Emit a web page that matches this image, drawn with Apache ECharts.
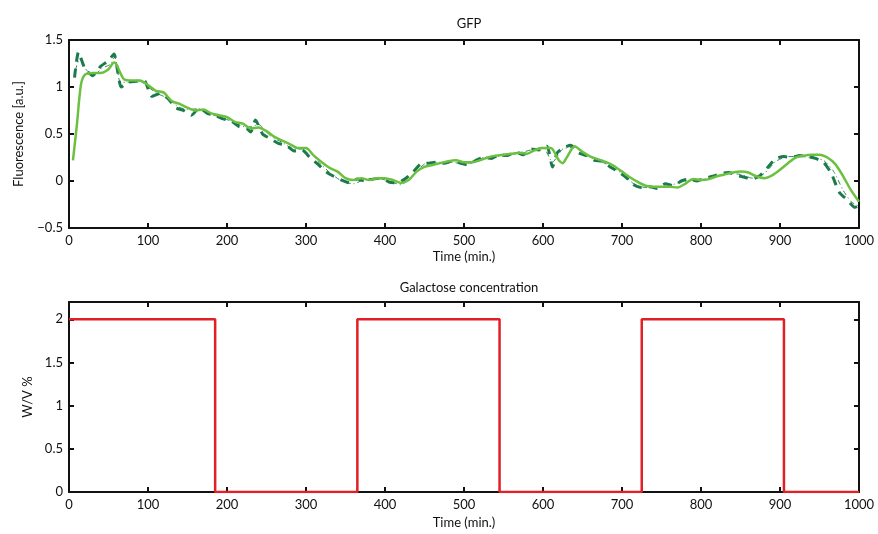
<!DOCTYPE html>
<html><head><meta charset="utf-8">
<script src="https://cdn.jsdelivr.net/npm/echarts@6/dist/echarts.min.js"></script>
<style>html,body{margin:0;padding:0;background:#fff}#c{width:878px;height:534px}</style>
</head><body><div id="c"></div>
<script>
// ---- data ----
var xTicks = [0,100,200,300,400,500,600,700,800,900,1000];
var solidT = [5,10,15,20,30,40,50,57,60,70,80,90,100,110,120,130,140,150,160,170,180,190,200,210,220,230,240,250,260,270,280,290,300,310,320,330,340,350,360,370,380,390,400,410,420,430,440,450,460,470,480,490,500,510,520,530,540,550,560,570,580,590,600,610,620,625,630,640,650,660,670,680,690,700,710,720,730,740,750,760,770,780,790,800,810,820,830,840,850,860,870,880,890,900,910,920,930,940,950,960,970,980,990,1000];
var solidY = [0.22,0.6,1.02,1.13,1.15,1.15,1.19,1.26,1.24,1.08,1.07,1.07,1.02,0.96,0.94,0.85,0.82,0.78,0.75,0.76,0.72,0.70,0.68,0.63,0.61,0.56,0.57,0.53,0.47,0.43,0.39,0.35,0.35,0.27,0.20,0.14,0.10,0.03,0.01,0.03,0.01,0.03,0.03,0.01,-0.02,0.01,0.10,0.15,0.17,0.19,0.21,0.22,0.20,0.20,0.22,0.25,0.27,0.28,0.29,0.30,0.29,0.33,0.35,0.35,0.22,0.19,0.25,0.37,0.31,0.26,0.23,0.20,0.16,0.10,0.04,-0.01,-0.05,-0.06,-0.06,-0.06,-0.07,-0.03,0.02,0.01,0.02,0.05,0.07,0.09,0.10,0.09,0.05,0.03,0.06,0.12,0.19,0.25,0.27,0.28,0.28,0.25,0.18,0.05,-0.10,-0.22];
var dashT = [7,12,20,30,40,50,57,62,66,75,85,95,105,115,125,135,145,155,165,175,185,195,205,215,225,230,236,245,255,265,275,285,295,305,315,325,335,345,355,365,375,385,395,405,415,425,435,445,455,465,475,485,495,505,515,525,535,545,555,565,575,585,595,605,612,618,625,635,645,655,665,675,685,695,705,715,725,735,745,755,765,775,785,795,805,815,825,835,845,855,865,875,885,895,905,915,925,935,945,955,965,975,985,995,1000];
var dashY = [1.10,1.37,1.20,1.12,1.22,1.28,1.35,1.15,1.00,1.05,1.06,1.07,0.90,0.93,0.88,0.78,0.75,0.70,0.78,0.72,0.70,0.66,0.64,0.58,0.56,0.52,0.65,0.50,0.45,0.40,0.38,0.32,0.33,0.25,0.18,0.10,0.05,0.01,-0.02,0.02,0.00,0.02,0.03,-0.01,-0.02,0.02,0.09,0.18,0.19,0.20,0.19,0.21,0.19,0.17,0.22,0.25,0.24,0.28,0.27,0.31,0.28,0.34,0.33,0.37,0.15,0.30,0.35,0.38,0.30,0.27,0.22,0.21,0.15,0.10,0.04,-0.04,-0.07,-0.06,-0.08,-0.03,-0.05,0.00,0.02,0.00,0.03,0.05,0.08,0.09,0.06,0.04,0.02,0.06,0.15,0.24,0.26,0.25,0.27,0.26,0.24,0.20,0.08,-0.12,-0.20,-0.28,-0.26];
var dotT = [8,14,22,32,42,52,58,65,75,88,100,112,125,138,150,165,180,195,210,225,240,255,270,285,300,315,330,345,360,375,390,405,420,435,450,465,480,495,510,525,540,555,570,585,600,612,625,640,655,670,685,700,715,730,745,760,775,790,805,820,835,850,865,880,895,910,925,940,955,968,980,990,1000];
var dotY = [1.18,1.30,1.18,1.13,1.20,1.24,1.32,1.05,1.05,1.07,1.00,0.93,0.88,0.79,0.76,0.77,0.71,0.67,0.62,0.57,0.60,0.48,0.41,0.34,0.34,0.21,0.09,0.00,-0.03,0.02,0.03,0.00,-0.04,0.06,0.18,0.20,0.20,0.19,0.19,0.25,0.26,0.27,0.30,0.33,0.36,0.20,0.34,0.36,0.27,0.22,0.16,0.08,-0.03,-0.07,-0.07,-0.05,-0.01,0.01,0.02,0.05,0.08,0.07,0.03,0.08,0.21,0.26,0.26,0.25,0.22,0.10,-0.10,-0.22,-0.27];
var galT = [0,185,185,365,365,545,545,725,725,905,905,1000];
var galY = [2,2,0,0,2,2,0,0,2,2,0,0];

function pairs(t, y){ return t.map(function(v,i){ return [v, y[i]]; }); }
var font = 'Lato, "Open Sans", sans-serif';
var fs = 13;
function minusFmt(v){ return String(v).replace('-', '\u2212'); }
function plainFmt(v){ return String(v); }
function halfFmt(v){ return (Math.abs(v*2 - Math.round(v*2)) < 1e-6) ? minusFmt(v) : ''; }

function boxAxes(gi, show, pos, extra){
  var a = {
    gridIndex: gi, type: 'value', position: pos,
    axisLine: {show: true, onZero: false, lineStyle: {color: '#111', width: 2}},
    axisTick: {show: true, inside: true, length: 5, lineStyle: {color: '#111', width: 2}},
    axisLabel: {show: show, color: '#111', fontFamily: font, fontSize: fs, margin: 6, formatter: minusFmt},
    splitLine: {show: false}
  };
  for (var k in extra) a[k] = extra[k];
  return a;
}
var nameStyle = {fontFamily: font, fontSize: fs, color: '#111'};

var chart = echarts.init(document.getElementById('c'));
chart.setOption({
  animation: false,
  backgroundColor: '#fff',
  title: [
    {text: 'GFP', left: 464, top: 12, textAlign: 'center', textStyle: {fontFamily: font, fontSize: fs, fontWeight: 'normal', color: '#111'}},
    {text: 'Galactose concentration', left: 464, top: 276, textAlign: 'center', textStyle: {fontFamily: font, fontSize: fs, fontWeight: 'normal', color: '#111'}}
  ],
  grid: [
    {left: 69, right: 19, top: 40, height: 188},
    {left: 69, right: 19, top: 302, height: 190}
  ],
  xAxis: [
    boxAxes(0, true, 'bottom', {min: 0, max: 1000, interval: 100, name: 'Time (min.)', nameLocation: 'middle', nameGap: 22, nameTextStyle: nameStyle}),
    boxAxes(0, false, 'top', {min: 0, max: 1000, interval: 100}),
    boxAxes(1, true, 'bottom', {min: 0, max: 1000, interval: 100, name: 'Time (min.)', nameLocation: 'middle', nameGap: 24, nameTextStyle: nameStyle}),
    boxAxes(1, false, 'top', {min: 0, max: 1000, interval: 100})
  ],
  yAxis: [
    boxAxes(0, true, 'left', {min: -0.5, max: 1.5, interval: 0.5, name: 'Fluorescence [a.u.]', nameLocation: 'middle', nameGap: 44, nameTextStyle: nameStyle}),
    boxAxes(0, false, 'right', {min: -0.5, max: 1.5, interval: 0.5}),
    boxAxes(1, true, 'left', {min: 0, max: 2.2, interval: 0.5, name: 'W/V %', nameLocation: 'middle', nameGap: 32, nameTextStyle: nameStyle}),
    boxAxes(1, false, 'right', {min: 0, max: 2.2, interval: 0.5})
  ],
  series: [
    {type: 'line', xAxisIndex: 0, yAxisIndex: 0, data: pairs(dotT, dotY), showSymbol: false, smooth: 0.2,
     lineStyle: {color: '#2a8a55', width: 1, type: [5, 3, 1, 3]}, z: 2},
    {type: 'line', xAxisIndex: 0, yAxisIndex: 0, data: pairs(dashT, dashY), showSymbol: false, smooth: 0.2,
     lineStyle: {color: '#1c7a4c', width: 3, type: [9, 7]}, z: 3},
    {type: 'line', xAxisIndex: 0, yAxisIndex: 0, data: pairs(solidT, solidY), showSymbol: false, smooth: 0.25,
     lineStyle: {color: '#6cc040', width: 2.5}, z: 4},
    {type: 'line', xAxisIndex: 2, yAxisIndex: 2, data: pairs(galT, galY), showSymbol: false,
     lineStyle: {color: '#e11f26', width: 2.5}, z: 4}
  ]
});
chart.setOption({yAxis: [{}, {}, {axisLabel: {formatter: halfFmt}}, {}]});
</script></body></html>
